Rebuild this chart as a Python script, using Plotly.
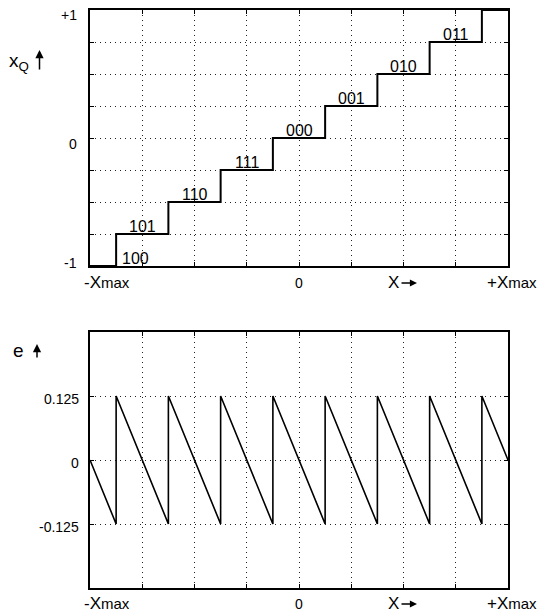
import plotly.graph_objects as go

# ---- data ----
# quantizer staircase (x = input, y = quantized output)
stair_x = [-1, -0.875, -0.625, -0.375, -0.125, 0.125, 0.375, 0.625, 0.875, 1]
stair_y = [-1, -0.75, -0.5, -0.25, 0, 0.25, 0.5, 0.75, 1, 1]

# code words and where they sit
codes = ["100", "101", "110", "111", "000", "001", "010", "011"]
code_x = [-0.78, -0.75, -0.5, -0.25, 0, 0.25, 0.5, 0.75]
code_y = [-1, -0.75, -0.5, -0.25, 0, 0.25, 0.5, 0.75]

# quantization error
err_x = [-1, -0.875, -0.875, -0.625, -0.625, -0.375, -0.375, -0.125, -0.125,
         0.125, 0.125, 0.375, 0.375, 0.625, 0.625, 0.875, 0.875, 1]
err_y = [0, -0.125, 0.125, -0.125, 0.125, -0.125, 0.125, -0.125, 0.125,
         -0.125, 0.125, -0.125, 0.125, -0.125, 0.125, -0.125, 0.125, 0]

grid_x = [-1, -0.75, -0.5, -0.25, 0, 0.25, 0.5, 0.75, 1]
grid_y_top = [-1, -0.75, -0.5, -0.25, 0, 0.25, 0.5, 0.75, 1]
grid_y_bot = [-0.125, 0, 0.125]

ytick_top_vals = [1, 0, -1]
ytick_top_text = ["+1", "0", "-1"]
ytick_bot_vals = [0.125, 0, -0.125]
ytick_bot_text = ["0.125", "0", "-0.125"]

# ---- figure ----
OFF = 8                      # page body margin of the html page
W, H = 545 - OFF, 615 - OFF
FONT = "Liberation Sans, Arial, Helvetica, sans-serif"

def fx(px):
    return (px - OFF) / W

def fy(py):
    return 1 - (py - OFF) / H

fig = go.Figure()
fig.add_trace(go.Scatter(x=stair_x, y=stair_y, mode="lines", line_shape="hv",
                         line=dict(color="black", width=2), xaxis="x", yaxis="y",
                         hoverinfo="skip", showlegend=False))
fig.add_trace(go.Scatter(x=err_x, y=err_y, mode="lines",
                         line=dict(color="black", width=1.6), xaxis="x2", yaxis="y2",
                         hoverinfo="skip", showlegend=False))

axis_common = dict(showline=True, linecolor="black", linewidth=1.5, mirror="ticks",
                   ticks="inside", ticklen=4, tickcolor="black", tickwidth=1,
                   showgrid=True, gridcolor="#222", gridwidth=1, griddash="1px,4px",
                   zeroline=False, showticklabels=False, fixedrange=True)

fig.update_layout(
    width=W, height=H, margin=dict(l=0, r=0, t=0, b=0),
    paper_bgcolor="white", plot_bgcolor="white",
    font=dict(family=FONT, color="black", size=15),
    xaxis=dict(domain=[fx(90), fx(508)], range=[-1, 1], tickvals=grid_x, anchor="y", **axis_common),
    yaxis=dict(domain=[fy(266), fy(10)], range=[-1, 1], tickvals=grid_y_top, anchor="x", **axis_common),
    xaxis2=dict(domain=[fx(90), fx(508)], range=[-1, 1], tickvals=grid_x, anchor="y2", **axis_common),
    yaxis2=dict(domain=[fy(588), fy(332)], range=[-0.25, 0.25], tickvals=grid_y_bot, anchor="x2", **axis_common),
)

ann = []
# code words
for t, xv, yv in zip(codes, code_x, code_y):
    ann.append(dict(x=xv, y=yv, xref="x", yref="y", text=t, showarrow=False,
                    xanchor="center", yanchor="middle", yshift=8, font=dict(size=16)))

# y tick labels
top_shift = [-5, -6, 3]
for v, t, s in zip(ytick_top_vals, ytick_top_text, top_shift):
    ann.append(dict(x=fx(79), y=v, xref="paper", yref="y", text=t, showarrow=False,
                    xanchor="right", yanchor="middle", yshift=s, font=dict(size=14)))
for v, t in zip(ytick_bot_vals, ytick_bot_text):
    ann.append(dict(x=fx(81), y=v, xref="paper", yref="y2", text=t, showarrow=False,
                    xanchor="right", yanchor="middle", yshift=-3, font=dict(size=14)))

# x labels for both panels
xmax_lab = "X<span style='font-size:15px'>max</span>"
for yc in (282, 603):
    ann.append(dict(x=fx(82), y=fy(yc), xref="paper", yref="paper", text="-" + xmax_lab,
                    showarrow=False, xanchor="left", yanchor="middle", font=dict(size=17)))
    ann.append(dict(x=fx(538), y=fy(yc), xref="paper", yref="paper", text="+" + xmax_lab,
                    showarrow=False, xanchor="right", yanchor="middle", font=dict(size=17),
                    borderpad=0))
    ann.append(dict(x=fx(299), y=fy(yc + 1), xref="paper", yref="paper", text="0",
                    showarrow=False, xanchor="center", yanchor="middle", font=dict(size=14)))
    ann.append(dict(x=fx(386), y=fy(yc), xref="paper", yref="paper", text="X",
                    showarrow=False, xanchor="left", yanchor="middle", font=dict(size=17)))
    # arrow after X
    ann.append(dict(x=fx(417), y=fy(yc + 1), xref="paper", yref="paper", text="",
                    showarrow=True, ax=-17, ay=0, arrowhead=2, arrowsize=1.1,
                    arrowwidth=1.3, arrowcolor="black", standoff=0))

# y axis titles
ann.append(dict(x=fx(7), y=fy(62), xref="paper", yref="paper", text="x<sub>Q</sub>",
                showarrow=False, xanchor="left", yanchor="middle", font=dict(size=19)))
ann.append(dict(x=fx(39.5), y=fy(50), xref="paper", yref="paper", text="",
                showarrow=True, ax=0, ay=21, arrowhead=2, arrowsize=1.1,
                arrowwidth=1.5, arrowcolor="black", standoff=0))
ann.append(dict(x=fx(11), y=fy(350), xref="paper", yref="paper", text="e",
                showarrow=False, xanchor="left", yanchor="middle", font=dict(size=19)))
ann.append(dict(x=fx(37), y=fy(344), xref="paper", yref="paper", text="",
                showarrow=True, ax=0, ay=15, arrowhead=2, arrowsize=1.1,
                arrowwidth=1.5, arrowcolor="black", standoff=0))

fig.update_layout(annotations=ann)
fig.write_html("out.html")
